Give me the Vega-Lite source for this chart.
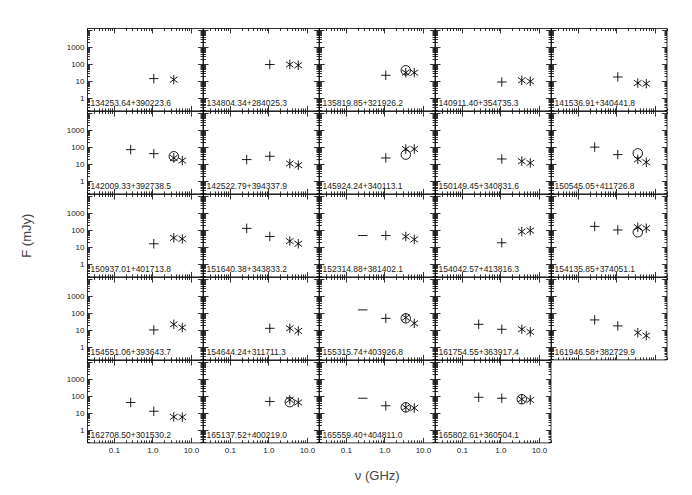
{
"$schema": "https://vega.github.io/schema/vega-lite/v6.json",
"background": "white",
"padding": {"left": 20, "top": 25, "right": 5, "bottom": 5},
"data": {"values": [
{"name":"134253.64+390223.6","f":1.086,"s":14.4,"sym":"plus"},
{"name":"134253.64+390223.6","f":3.59,"s":12.6,"sym":"asterisk"},
{"name":"134804.34+284025.3","f":1.086,"s":96,"sym":"plus"},
{"name":"134804.34+284025.3","f":3.59,"s":96,"sym":"asterisk"},
{"name":"134804.34+284025.3","f":5.97,"s":87,"sym":"asterisk"},
{"name":"135819.85+321926.2","f":1.086,"s":22.5,"sym":"plus"},
{"name":"135819.85+321926.2","f":3.59,"s":44,"sym":"circle"},
{"name":"135819.85+321926.2","f":3.59,"s":32,"sym":"asterisk"},
{"name":"135819.85+321926.2","f":5.97,"s":32,"sym":"asterisk"},
{"name":"140911.40+354735.3","f":1.086,"s":9.1,"sym":"plus"},
{"name":"140911.40+354735.3","f":3.59,"s":11.5,"sym":"asterisk"},
{"name":"140911.40+354735.3","f":5.97,"s":10,"sym":"asterisk"},
{"name":"141536.91+340441.8","f":1.086,"s":17.9,"sym":"plus"},
{"name":"141536.91+340441.8","f":3.59,"s":7.9,"sym":"asterisk"},
{"name":"141536.91+340441.8","f":5.97,"s":7.3,"sym":"asterisk"},
{"name":"142009.33+392738.5","f":0.273,"s":72,"sym":"plus"},
{"name":"142009.33+392738.5","f":1.086,"s":42,"sym":"plus"},
{"name":"142009.33+392738.5","f":3.59,"s":29.5,"sym":"circle"},
{"name":"142009.33+392738.5","f":3.59,"s":23.5,"sym":"asterisk"},
{"name":"142009.33+392738.5","f":5.97,"s":16.6,"sym":"asterisk"},
{"name":"142522.79+394337.9","f":0.273,"s":18.9,"sym":"plus"},
{"name":"142522.79+394337.9","f":1.086,"s":29.5,"sym":"plus"},
{"name":"142522.79+394337.9","f":3.59,"s":11.1,"sym":"asterisk"},
{"name":"142522.79+394337.9","f":5.97,"s":8.9,"sym":"asterisk"},
{"name":"145924.24+340113.1","f":1.086,"s":23.5,"sym":"plus"},
{"name":"145924.24+340113.1","f":3.59,"s":36.8,"sym":"circle"},
{"name":"145924.24+340113.1","f":3.59,"s":78,"sym":"asterisk"},
{"name":"145924.24+340113.1","f":5.97,"s":78,"sym":"asterisk"},
{"name":"150149.45+340831.6","f":1.086,"s":20.5,"sym":"plus"},
{"name":"150149.45+340831.6","f":3.59,"s":15.1,"sym":"asterisk"},
{"name":"150149.45+340831.6","f":5.97,"s":12,"sym":"asterisk"},
{"name":"150545.05+411726.8","f":0.273,"s":101,"sym":"plus"},
{"name":"150545.05+411726.8","f":1.086,"s":36.8,"sym":"plus"},
{"name":"150545.05+411726.8","f":3.59,"s":43.6,"sym":"circle"},
{"name":"150545.05+411726.8","f":3.59,"s":19.7,"sym":"asterisk"},
{"name":"150545.05+411726.8","f":5.97,"s":13.2,"sym":"asterisk"},
{"name":"150937.01+401713.8","f":1.086,"s":16.1,"sym":"plus"},
{"name":"150937.01+401713.8","f":3.59,"s":35.7,"sym":"asterisk"},
{"name":"150937.01+401713.8","f":5.97,"s":31.2,"sym":"asterisk"},
{"name":"151640.38+343833.2","f":0.273,"s":128,"sym":"plus"},
{"name":"151640.38+343833.2","f":1.086,"s":42.8,"sym":"plus"},
{"name":"151640.38+343833.2","f":3.59,"s":23,"sym":"asterisk"},
{"name":"151640.38+343833.2","f":5.97,"s":16.1,"sym":"asterisk"},
{"name":"152314.88+381402.1","f":0.273,"s":49,"sym":"dash"},
{"name":"152314.88+381402.1","f":1.086,"s":49,"sym":"plus"},
{"name":"152314.88+381402.1","f":3.59,"s":42.7,"sym":"asterisk"},
{"name":"152314.88+381402.1","f":5.97,"s":29,"sym":"asterisk"},
{"name":"154042.57+413816.3","f":1.086,"s":18.4,"sym":"plus"},
{"name":"154042.57+413816.3","f":3.59,"s":83,"sym":"asterisk"},
{"name":"154042.57+413816.3","f":5.97,"s":95,"sym":"asterisk"},
{"name":"154135.85+374051.1","f":0.273,"s":167,"sym":"plus"},
{"name":"154135.85+374051.1","f":1.086,"s":103,"sym":"plus"},
{"name":"154135.85+374051.1","f":3.59,"s":76,"sym":"circle"},
{"name":"154135.85+374051.1","f":3.59,"s":147,"sym":"asterisk"},
{"name":"154135.85+374051.1","f":5.97,"s":130,"sym":"asterisk"},
{"name":"154551.06+393643.7","f":1.086,"s":10.5,"sym":"plus"},
{"name":"154551.06+393643.7","f":3.59,"s":22.4,"sym":"asterisk"},
{"name":"154551.06+393643.7","f":5.97,"s":14.4,"sym":"asterisk"},
{"name":"154644.24+311711.3","f":1.086,"s":13.1,"sym":"plus"},
{"name":"154644.24+311711.3","f":3.59,"s":13.1,"sym":"asterisk"},
{"name":"154644.24+311711.3","f":5.97,"s":9.2,"sym":"asterisk"},
{"name":"155315.74+403926.8","f":0.273,"s":156,"sym":"dash"},
{"name":"155315.74+403926.8","f":1.086,"s":50,"sym":"plus"},
{"name":"155315.74+403926.8","f":3.59,"s":50,"sym":"circle"},
{"name":"155315.74+403926.8","f":3.59,"s":55,"sym":"asterisk"},
{"name":"155315.74+403926.8","f":5.97,"s":25.7,"sym":"asterisk"},
{"name":"161754.55+363917.4","f":0.273,"s":22.4,"sym":"plus"},
{"name":"161754.55+363917.4","f":1.086,"s":11.5,"sym":"plus"},
{"name":"161754.55+363917.4","f":3.59,"s":11.5,"sym":"asterisk"},
{"name":"161754.55+363917.4","f":5.97,"s":8.1,"sym":"asterisk"},
{"name":"161946.58+382729.9","f":0.273,"s":40.5,"sym":"plus"},
{"name":"161946.58+382729.9","f":1.086,"s":18.1,"sym":"plus"},
{"name":"161946.58+382729.9","f":3.59,"s":7.3,"sym":"asterisk"},
{"name":"161946.58+382729.9","f":5.97,"s":4.9,"sym":"asterisk"},
{"name":"162708.50+301530.2","f":0.273,"s":43,"sym":"plus"},
{"name":"162708.50+301530.2","f":1.086,"s":13.2,"sym":"plus"},
{"name":"162708.50+301530.2","f":3.59,"s":6.2,"sym":"asterisk"},
{"name":"162708.50+301530.2","f":5.97,"s":6.0,"sym":"asterisk"},
{"name":"165137.52+400219.0","f":1.086,"s":49,"sym":"plus"},
{"name":"165137.52+400219.0","f":3.59,"s":44.8,"sym":"circle"},
{"name":"165137.52+400219.0","f":3.59,"s":61,"sym":"asterisk"},
{"name":"165137.52+400219.0","f":5.97,"s":43,"sym":"asterisk"},
{"name":"165559.40+404811.0","f":0.273,"s":76,"sym":"dash"},
{"name":"165559.40+404811.0","f":1.086,"s":27.6,"sym":"plus"},
{"name":"165559.40+404811.0","f":3.59,"s":22.3,"sym":"circle"},
{"name":"165559.40+404811.0","f":3.59,"s":22,"sym":"asterisk"},
{"name":"165559.40+404811.0","f":5.97,"s":20.4,"sym":"asterisk"},
{"name":"165802.61+360504.1","f":0.273,"s":86.5,"sym":"plus"},
{"name":"165802.61+360504.1","f":1.086,"s":76,"sym":"plus"},
{"name":"165802.61+360504.1","f":3.59,"s":66.5,"sym":"circle"},
{"name":"165802.61+360504.1","f":3.59,"s":66.5,"sym":"asterisk"},
{"name":"165802.61+360504.1","f":5.97,"s":60.5,"sym":"asterisk"}
]},
"columns": 5,
"spacing": 0,
"bounds": "flush",
"concat": [
{"width":115.5,"height":82.4,"transform":[{"filter":{"field":"name","equal":"134253.64+390223.6"}}],"layer":[
{"mark":{"type":"point","filled":false,"stroke":"#000","strokeWidth":0.9,"size":90,"opacity":1},"encoding":{
"x":{"field":"f","type":"quantitative","scale":{"type":"log","domain":[0.02,20],"nice":false},"axis":{"orient":"bottom","tickCount":20,"labels":false,"tickSize":{"condition":{"test":"abs(log(datum.value)/LN10-round(log(datum.value)/LN10))<0.0001","value":-5},"value":-2.5},"title":null}},
"y":{"field":"s","type":"quantitative","scale":{"type":"log","domain":[0.2,13000],"nice":false},"axis":{"orient":"left","tickCount":20,"labelExpr":"abs(log(datum.value)/LN10-round(log(datum.value)/LN10))<0.0001 && datum.value<5000 ? format(datum.value,'d') : ''","labelPadding":8,"tickSize":{"condition":{"test":"abs(log(datum.value)/LN10-round(log(datum.value)/LN10))<0.0001","value":-5},"value":-2.5},"title":null}},
"shape":{"field":"sym","type":"nominal","scale":{"domain":["plus","asterisk","circle","dash"],"range":["M-1,0L1,0M0,-1L0,1","M0,-1L0,1M-0.8,-0.6L0.8,0.6M-0.8,0.6L0.8,-0.6","circle","M-1,0L1,0"]},"legend":null}}},
{"transform":[{"aggregate":[{"op":"count","as":"n"}],"groupby":["name"]}],"mark":{"type":"text","align":"left","baseline":"bottom","dx":3.5,"dy":-2,"font":"Liberation Sans","fontSize":8.5,"color":"#222"},"encoding":{
"x":{"datum":0.02,"type":"quantitative","scale":{"type":"log","domain":[0.02,20],"nice":false},"axis":{"orient":"top","tickCount":20,"labels":false,"tickSize":{"condition":{"test":"abs(log(datum.value)/LN10-round(log(datum.value)/LN10))<0.0001","value":-5},"value":-2.5},"title":null}},
"y":{"datum":0.2,"type":"quantitative","scale":{"type":"log","domain":[0.2,13000],"nice":false},"axis":{"orient":"right","tickCount":20,"labels":false,"tickSize":{"condition":{"test":"abs(log(datum.value)/LN10-round(log(datum.value)/LN10))<0.0001","value":-5},"value":-2.5},"title":null}},
"text":{"field":"name"}}}
],"resolve":{"axis":{"x":"independent","y":"independent"}}},
{"width":115.5,"height":82.4,"transform":[{"filter":{"field":"name","equal":"134804.34+284025.3"}}],"layer":[
{"mark":{"type":"point","filled":false,"stroke":"#000","strokeWidth":0.9,"size":90,"opacity":1},"encoding":{
"x":{"field":"f","type":"quantitative","scale":{"type":"log","domain":[0.02,20],"nice":false},"axis":{"orient":"bottom","tickCount":20,"labels":false,"tickSize":{"condition":{"test":"abs(log(datum.value)/LN10-round(log(datum.value)/LN10))<0.0001","value":-5},"value":-2.5},"title":null}},
"y":{"field":"s","type":"quantitative","scale":{"type":"log","domain":[0.2,13000],"nice":false},"axis":{"orient":"left","tickCount":20,"labels":false,"tickSize":{"condition":{"test":"abs(log(datum.value)/LN10-round(log(datum.value)/LN10))<0.0001","value":-5},"value":-2.5},"title":null}},
"shape":{"field":"sym","type":"nominal","scale":{"domain":["plus","asterisk","circle","dash"],"range":["M-1,0L1,0M0,-1L0,1","M0,-1L0,1M-0.8,-0.6L0.8,0.6M-0.8,0.6L0.8,-0.6","circle","M-1,0L1,0"]},"legend":null}}},
{"transform":[{"aggregate":[{"op":"count","as":"n"}],"groupby":["name"]}],"mark":{"type":"text","align":"left","baseline":"bottom","dx":3.5,"dy":-2,"font":"Liberation Sans","fontSize":8.5,"color":"#222"},"encoding":{
"x":{"datum":0.02,"type":"quantitative","scale":{"type":"log","domain":[0.02,20],"nice":false},"axis":{"orient":"top","tickCount":20,"labels":false,"tickSize":{"condition":{"test":"abs(log(datum.value)/LN10-round(log(datum.value)/LN10))<0.0001","value":-5},"value":-2.5},"title":null}},
"y":{"datum":0.2,"type":"quantitative","scale":{"type":"log","domain":[0.2,13000],"nice":false},"axis":{"orient":"right","tickCount":20,"labels":false,"tickSize":{"condition":{"test":"abs(log(datum.value)/LN10-round(log(datum.value)/LN10))<0.0001","value":-5},"value":-2.5},"title":null}},
"text":{"field":"name"}}}
],"resolve":{"axis":{"x":"independent","y":"independent"}}},
{"width":115.5,"height":82.4,"transform":[{"filter":{"field":"name","equal":"135819.85+321926.2"}}],"layer":[
{"mark":{"type":"point","filled":false,"stroke":"#000","strokeWidth":0.9,"size":90,"opacity":1},"encoding":{
"x":{"field":"f","type":"quantitative","scale":{"type":"log","domain":[0.02,20],"nice":false},"axis":{"orient":"bottom","tickCount":20,"labels":false,"tickSize":{"condition":{"test":"abs(log(datum.value)/LN10-round(log(datum.value)/LN10))<0.0001","value":-5},"value":-2.5},"title":null}},
"y":{"field":"s","type":"quantitative","scale":{"type":"log","domain":[0.2,13000],"nice":false},"axis":{"orient":"left","tickCount":20,"labels":false,"tickSize":{"condition":{"test":"abs(log(datum.value)/LN10-round(log(datum.value)/LN10))<0.0001","value":-5},"value":-2.5},"title":null}},
"shape":{"field":"sym","type":"nominal","scale":{"domain":["plus","asterisk","circle","dash"],"range":["M-1,0L1,0M0,-1L0,1","M0,-1L0,1M-0.8,-0.6L0.8,0.6M-0.8,0.6L0.8,-0.6","circle","M-1,0L1,0"]},"legend":null}}},
{"transform":[{"aggregate":[{"op":"count","as":"n"}],"groupby":["name"]}],"mark":{"type":"text","align":"left","baseline":"bottom","dx":3.5,"dy":-2,"font":"Liberation Sans","fontSize":8.5,"color":"#222"},"encoding":{
"x":{"datum":0.02,"type":"quantitative","scale":{"type":"log","domain":[0.02,20],"nice":false},"axis":{"orient":"top","tickCount":20,"labels":false,"tickSize":{"condition":{"test":"abs(log(datum.value)/LN10-round(log(datum.value)/LN10))<0.0001","value":-5},"value":-2.5},"title":null}},
"y":{"datum":0.2,"type":"quantitative","scale":{"type":"log","domain":[0.2,13000],"nice":false},"axis":{"orient":"right","tickCount":20,"labels":false,"tickSize":{"condition":{"test":"abs(log(datum.value)/LN10-round(log(datum.value)/LN10))<0.0001","value":-5},"value":-2.5},"title":null}},
"text":{"field":"name"}}}
],"resolve":{"axis":{"x":"independent","y":"independent"}}},
{"width":115.5,"height":82.4,"transform":[{"filter":{"field":"name","equal":"140911.40+354735.3"}}],"layer":[
{"mark":{"type":"point","filled":false,"stroke":"#000","strokeWidth":0.9,"size":90,"opacity":1},"encoding":{
"x":{"field":"f","type":"quantitative","scale":{"type":"log","domain":[0.02,20],"nice":false},"axis":{"orient":"bottom","tickCount":20,"labels":false,"tickSize":{"condition":{"test":"abs(log(datum.value)/LN10-round(log(datum.value)/LN10))<0.0001","value":-5},"value":-2.5},"title":null}},
"y":{"field":"s","type":"quantitative","scale":{"type":"log","domain":[0.2,13000],"nice":false},"axis":{"orient":"left","tickCount":20,"labels":false,"tickSize":{"condition":{"test":"abs(log(datum.value)/LN10-round(log(datum.value)/LN10))<0.0001","value":-5},"value":-2.5},"title":null}},
"shape":{"field":"sym","type":"nominal","scale":{"domain":["plus","asterisk","circle","dash"],"range":["M-1,0L1,0M0,-1L0,1","M0,-1L0,1M-0.8,-0.6L0.8,0.6M-0.8,0.6L0.8,-0.6","circle","M-1,0L1,0"]},"legend":null}}},
{"transform":[{"aggregate":[{"op":"count","as":"n"}],"groupby":["name"]}],"mark":{"type":"text","align":"left","baseline":"bottom","dx":3.5,"dy":-2,"font":"Liberation Sans","fontSize":8.5,"color":"#222"},"encoding":{
"x":{"datum":0.02,"type":"quantitative","scale":{"type":"log","domain":[0.02,20],"nice":false},"axis":{"orient":"top","tickCount":20,"labels":false,"tickSize":{"condition":{"test":"abs(log(datum.value)/LN10-round(log(datum.value)/LN10))<0.0001","value":-5},"value":-2.5},"title":null}},
"y":{"datum":0.2,"type":"quantitative","scale":{"type":"log","domain":[0.2,13000],"nice":false},"axis":{"orient":"right","tickCount":20,"labels":false,"tickSize":{"condition":{"test":"abs(log(datum.value)/LN10-round(log(datum.value)/LN10))<0.0001","value":-5},"value":-2.5},"title":null}},
"text":{"field":"name"}}}
],"resolve":{"axis":{"x":"independent","y":"independent"}}},
{"width":115.5,"height":82.4,"transform":[{"filter":{"field":"name","equal":"141536.91+340441.8"}}],"layer":[
{"mark":{"type":"point","filled":false,"stroke":"#000","strokeWidth":0.9,"size":90,"opacity":1},"encoding":{
"x":{"field":"f","type":"quantitative","scale":{"type":"log","domain":[0.02,20],"nice":false},"axis":{"orient":"bottom","tickCount":20,"labels":false,"tickSize":{"condition":{"test":"abs(log(datum.value)/LN10-round(log(datum.value)/LN10))<0.0001","value":-5},"value":-2.5},"title":null}},
"y":{"field":"s","type":"quantitative","scale":{"type":"log","domain":[0.2,13000],"nice":false},"axis":{"orient":"left","tickCount":20,"labels":false,"tickSize":{"condition":{"test":"abs(log(datum.value)/LN10-round(log(datum.value)/LN10))<0.0001","value":-5},"value":-2.5},"title":null}},
"shape":{"field":"sym","type":"nominal","scale":{"domain":["plus","asterisk","circle","dash"],"range":["M-1,0L1,0M0,-1L0,1","M0,-1L0,1M-0.8,-0.6L0.8,0.6M-0.8,0.6L0.8,-0.6","circle","M-1,0L1,0"]},"legend":null}}},
{"transform":[{"aggregate":[{"op":"count","as":"n"}],"groupby":["name"]}],"mark":{"type":"text","align":"left","baseline":"bottom","dx":3.5,"dy":-2,"font":"Liberation Sans","fontSize":8.5,"color":"#222"},"encoding":{
"x":{"datum":0.02,"type":"quantitative","scale":{"type":"log","domain":[0.02,20],"nice":false},"axis":{"orient":"top","tickCount":20,"labels":false,"tickSize":{"condition":{"test":"abs(log(datum.value)/LN10-round(log(datum.value)/LN10))<0.0001","value":-5},"value":-2.5},"title":null}},
"y":{"datum":0.2,"type":"quantitative","scale":{"type":"log","domain":[0.2,13000],"nice":false},"axis":{"orient":"right","tickCount":20,"labels":false,"tickSize":{"condition":{"test":"abs(log(datum.value)/LN10-round(log(datum.value)/LN10))<0.0001","value":-5},"value":-2.5},"title":null}},
"text":{"field":"name"}}}
],"resolve":{"axis":{"x":"independent","y":"independent"}}},
{"width":115.5,"height":82.4,"transform":[{"filter":{"field":"name","equal":"142009.33+392738.5"}}],"layer":[
{"mark":{"type":"point","filled":false,"stroke":"#000","strokeWidth":0.9,"size":90,"opacity":1},"encoding":{
"x":{"field":"f","type":"quantitative","scale":{"type":"log","domain":[0.02,20],"nice":false},"axis":{"orient":"bottom","tickCount":20,"labels":false,"tickSize":{"condition":{"test":"abs(log(datum.value)/LN10-round(log(datum.value)/LN10))<0.0001","value":-5},"value":-2.5},"title":null}},
"y":{"field":"s","type":"quantitative","scale":{"type":"log","domain":[0.2,13000],"nice":false},"axis":{"orient":"left","tickCount":20,"labelExpr":"abs(log(datum.value)/LN10-round(log(datum.value)/LN10))<0.0001 && datum.value<5000 ? format(datum.value,'d') : ''","labelPadding":8,"tickSize":{"condition":{"test":"abs(log(datum.value)/LN10-round(log(datum.value)/LN10))<0.0001","value":-5},"value":-2.5},"title":null}},
"shape":{"field":"sym","type":"nominal","scale":{"domain":["plus","asterisk","circle","dash"],"range":["M-1,0L1,0M0,-1L0,1","M0,-1L0,1M-0.8,-0.6L0.8,0.6M-0.8,0.6L0.8,-0.6","circle","M-1,0L1,0"]},"legend":null}}},
{"transform":[{"aggregate":[{"op":"count","as":"n"}],"groupby":["name"]}],"mark":{"type":"text","align":"left","baseline":"bottom","dx":3.5,"dy":-2,"font":"Liberation Sans","fontSize":8.5,"color":"#222"},"encoding":{
"x":{"datum":0.02,"type":"quantitative","scale":{"type":"log","domain":[0.02,20],"nice":false},"axis":{"orient":"top","tickCount":20,"labels":false,"tickSize":{"condition":{"test":"abs(log(datum.value)/LN10-round(log(datum.value)/LN10))<0.0001","value":-5},"value":-2.5},"title":null}},
"y":{"datum":0.2,"type":"quantitative","scale":{"type":"log","domain":[0.2,13000],"nice":false},"axis":{"orient":"right","tickCount":20,"labels":false,"tickSize":{"condition":{"test":"abs(log(datum.value)/LN10-round(log(datum.value)/LN10))<0.0001","value":-5},"value":-2.5},"title":null}},
"text":{"field":"name"}}}
],"resolve":{"axis":{"x":"independent","y":"independent"}}},
{"width":115.5,"height":82.4,"transform":[{"filter":{"field":"name","equal":"142522.79+394337.9"}}],"layer":[
{"mark":{"type":"point","filled":false,"stroke":"#000","strokeWidth":0.9,"size":90,"opacity":1},"encoding":{
"x":{"field":"f","type":"quantitative","scale":{"type":"log","domain":[0.02,20],"nice":false},"axis":{"orient":"bottom","tickCount":20,"labels":false,"tickSize":{"condition":{"test":"abs(log(datum.value)/LN10-round(log(datum.value)/LN10))<0.0001","value":-5},"value":-2.5},"title":null}},
"y":{"field":"s","type":"quantitative","scale":{"type":"log","domain":[0.2,13000],"nice":false},"axis":{"orient":"left","tickCount":20,"labels":false,"tickSize":{"condition":{"test":"abs(log(datum.value)/LN10-round(log(datum.value)/LN10))<0.0001","value":-5},"value":-2.5},"title":null}},
"shape":{"field":"sym","type":"nominal","scale":{"domain":["plus","asterisk","circle","dash"],"range":["M-1,0L1,0M0,-1L0,1","M0,-1L0,1M-0.8,-0.6L0.8,0.6M-0.8,0.6L0.8,-0.6","circle","M-1,0L1,0"]},"legend":null}}},
{"transform":[{"aggregate":[{"op":"count","as":"n"}],"groupby":["name"]}],"mark":{"type":"text","align":"left","baseline":"bottom","dx":3.5,"dy":-2,"font":"Liberation Sans","fontSize":8.5,"color":"#222"},"encoding":{
"x":{"datum":0.02,"type":"quantitative","scale":{"type":"log","domain":[0.02,20],"nice":false},"axis":{"orient":"top","tickCount":20,"labels":false,"tickSize":{"condition":{"test":"abs(log(datum.value)/LN10-round(log(datum.value)/LN10))<0.0001","value":-5},"value":-2.5},"title":null}},
"y":{"datum":0.2,"type":"quantitative","scale":{"type":"log","domain":[0.2,13000],"nice":false},"axis":{"orient":"right","tickCount":20,"labels":false,"tickSize":{"condition":{"test":"abs(log(datum.value)/LN10-round(log(datum.value)/LN10))<0.0001","value":-5},"value":-2.5},"title":null}},
"text":{"field":"name"}}}
],"resolve":{"axis":{"x":"independent","y":"independent"}}},
{"width":115.5,"height":82.4,"transform":[{"filter":{"field":"name","equal":"145924.24+340113.1"}}],"layer":[
{"mark":{"type":"point","filled":false,"stroke":"#000","strokeWidth":0.9,"size":90,"opacity":1},"encoding":{
"x":{"field":"f","type":"quantitative","scale":{"type":"log","domain":[0.02,20],"nice":false},"axis":{"orient":"bottom","tickCount":20,"labels":false,"tickSize":{"condition":{"test":"abs(log(datum.value)/LN10-round(log(datum.value)/LN10))<0.0001","value":-5},"value":-2.5},"title":null}},
"y":{"field":"s","type":"quantitative","scale":{"type":"log","domain":[0.2,13000],"nice":false},"axis":{"orient":"left","tickCount":20,"labels":false,"tickSize":{"condition":{"test":"abs(log(datum.value)/LN10-round(log(datum.value)/LN10))<0.0001","value":-5},"value":-2.5},"title":null}},
"shape":{"field":"sym","type":"nominal","scale":{"domain":["plus","asterisk","circle","dash"],"range":["M-1,0L1,0M0,-1L0,1","M0,-1L0,1M-0.8,-0.6L0.8,0.6M-0.8,0.6L0.8,-0.6","circle","M-1,0L1,0"]},"legend":null}}},
{"transform":[{"aggregate":[{"op":"count","as":"n"}],"groupby":["name"]}],"mark":{"type":"text","align":"left","baseline":"bottom","dx":3.5,"dy":-2,"font":"Liberation Sans","fontSize":8.5,"color":"#222"},"encoding":{
"x":{"datum":0.02,"type":"quantitative","scale":{"type":"log","domain":[0.02,20],"nice":false},"axis":{"orient":"top","tickCount":20,"labels":false,"tickSize":{"condition":{"test":"abs(log(datum.value)/LN10-round(log(datum.value)/LN10))<0.0001","value":-5},"value":-2.5},"title":null}},
"y":{"datum":0.2,"type":"quantitative","scale":{"type":"log","domain":[0.2,13000],"nice":false},"axis":{"orient":"right","tickCount":20,"labels":false,"tickSize":{"condition":{"test":"abs(log(datum.value)/LN10-round(log(datum.value)/LN10))<0.0001","value":-5},"value":-2.5},"title":null}},
"text":{"field":"name"}}}
],"resolve":{"axis":{"x":"independent","y":"independent"}}},
{"width":115.5,"height":82.4,"transform":[{"filter":{"field":"name","equal":"150149.45+340831.6"}}],"layer":[
{"mark":{"type":"point","filled":false,"stroke":"#000","strokeWidth":0.9,"size":90,"opacity":1},"encoding":{
"x":{"field":"f","type":"quantitative","scale":{"type":"log","domain":[0.02,20],"nice":false},"axis":{"orient":"bottom","tickCount":20,"labels":false,"tickSize":{"condition":{"test":"abs(log(datum.value)/LN10-round(log(datum.value)/LN10))<0.0001","value":-5},"value":-2.5},"title":null}},
"y":{"field":"s","type":"quantitative","scale":{"type":"log","domain":[0.2,13000],"nice":false},"axis":{"orient":"left","tickCount":20,"labels":false,"tickSize":{"condition":{"test":"abs(log(datum.value)/LN10-round(log(datum.value)/LN10))<0.0001","value":-5},"value":-2.5},"title":null}},
"shape":{"field":"sym","type":"nominal","scale":{"domain":["plus","asterisk","circle","dash"],"range":["M-1,0L1,0M0,-1L0,1","M0,-1L0,1M-0.8,-0.6L0.8,0.6M-0.8,0.6L0.8,-0.6","circle","M-1,0L1,0"]},"legend":null}}},
{"transform":[{"aggregate":[{"op":"count","as":"n"}],"groupby":["name"]}],"mark":{"type":"text","align":"left","baseline":"bottom","dx":3.5,"dy":-2,"font":"Liberation Sans","fontSize":8.5,"color":"#222"},"encoding":{
"x":{"datum":0.02,"type":"quantitative","scale":{"type":"log","domain":[0.02,20],"nice":false},"axis":{"orient":"top","tickCount":20,"labels":false,"tickSize":{"condition":{"test":"abs(log(datum.value)/LN10-round(log(datum.value)/LN10))<0.0001","value":-5},"value":-2.5},"title":null}},
"y":{"datum":0.2,"type":"quantitative","scale":{"type":"log","domain":[0.2,13000],"nice":false},"axis":{"orient":"right","tickCount":20,"labels":false,"tickSize":{"condition":{"test":"abs(log(datum.value)/LN10-round(log(datum.value)/LN10))<0.0001","value":-5},"value":-2.5},"title":null}},
"text":{"field":"name"}}}
],"resolve":{"axis":{"x":"independent","y":"independent"}}},
{"width":115.5,"height":82.4,"transform":[{"filter":{"field":"name","equal":"150545.05+411726.8"}}],"layer":[
{"mark":{"type":"point","filled":false,"stroke":"#000","strokeWidth":0.9,"size":90,"opacity":1},"encoding":{
"x":{"field":"f","type":"quantitative","scale":{"type":"log","domain":[0.02,20],"nice":false},"axis":{"orient":"bottom","tickCount":20,"labels":false,"tickSize":{"condition":{"test":"abs(log(datum.value)/LN10-round(log(datum.value)/LN10))<0.0001","value":-5},"value":-2.5},"title":null}},
"y":{"field":"s","type":"quantitative","scale":{"type":"log","domain":[0.2,13000],"nice":false},"axis":{"orient":"left","tickCount":20,"labels":false,"tickSize":{"condition":{"test":"abs(log(datum.value)/LN10-round(log(datum.value)/LN10))<0.0001","value":-5},"value":-2.5},"title":null}},
"shape":{"field":"sym","type":"nominal","scale":{"domain":["plus","asterisk","circle","dash"],"range":["M-1,0L1,0M0,-1L0,1","M0,-1L0,1M-0.8,-0.6L0.8,0.6M-0.8,0.6L0.8,-0.6","circle","M-1,0L1,0"]},"legend":null}}},
{"transform":[{"aggregate":[{"op":"count","as":"n"}],"groupby":["name"]}],"mark":{"type":"text","align":"left","baseline":"bottom","dx":3.5,"dy":-2,"font":"Liberation Sans","fontSize":8.5,"color":"#222"},"encoding":{
"x":{"datum":0.02,"type":"quantitative","scale":{"type":"log","domain":[0.02,20],"nice":false},"axis":{"orient":"top","tickCount":20,"labels":false,"tickSize":{"condition":{"test":"abs(log(datum.value)/LN10-round(log(datum.value)/LN10))<0.0001","value":-5},"value":-2.5},"title":null}},
"y":{"datum":0.2,"type":"quantitative","scale":{"type":"log","domain":[0.2,13000],"nice":false},"axis":{"orient":"right","tickCount":20,"labels":false,"tickSize":{"condition":{"test":"abs(log(datum.value)/LN10-round(log(datum.value)/LN10))<0.0001","value":-5},"value":-2.5},"title":null}},
"text":{"field":"name"}}}
],"resolve":{"axis":{"x":"independent","y":"independent"}}},
{"width":115.5,"height":82.4,"transform":[{"filter":{"field":"name","equal":"150937.01+401713.8"}}],"layer":[
{"mark":{"type":"point","filled":false,"stroke":"#000","strokeWidth":0.9,"size":90,"opacity":1},"encoding":{
"x":{"field":"f","type":"quantitative","scale":{"type":"log","domain":[0.02,20],"nice":false},"axis":{"orient":"bottom","tickCount":20,"labels":false,"tickSize":{"condition":{"test":"abs(log(datum.value)/LN10-round(log(datum.value)/LN10))<0.0001","value":-5},"value":-2.5},"title":null}},
"y":{"field":"s","type":"quantitative","scale":{"type":"log","domain":[0.2,13000],"nice":false},"axis":{"orient":"left","tickCount":20,"labelExpr":"abs(log(datum.value)/LN10-round(log(datum.value)/LN10))<0.0001 && datum.value<5000 ? format(datum.value,'d') : ''","labelPadding":8,"tickSize":{"condition":{"test":"abs(log(datum.value)/LN10-round(log(datum.value)/LN10))<0.0001","value":-5},"value":-2.5},"title":"F (mJy)","titlePadding":33}},
"shape":{"field":"sym","type":"nominal","scale":{"domain":["plus","asterisk","circle","dash"],"range":["M-1,0L1,0M0,-1L0,1","M0,-1L0,1M-0.8,-0.6L0.8,0.6M-0.8,0.6L0.8,-0.6","circle","M-1,0L1,0"]},"legend":null}}},
{"transform":[{"aggregate":[{"op":"count","as":"n"}],"groupby":["name"]}],"mark":{"type":"text","align":"left","baseline":"bottom","dx":3.5,"dy":-2,"font":"Liberation Sans","fontSize":8.5,"color":"#222"},"encoding":{
"x":{"datum":0.02,"type":"quantitative","scale":{"type":"log","domain":[0.02,20],"nice":false},"axis":{"orient":"top","tickCount":20,"labels":false,"tickSize":{"condition":{"test":"abs(log(datum.value)/LN10-round(log(datum.value)/LN10))<0.0001","value":-5},"value":-2.5},"title":null}},
"y":{"datum":0.2,"type":"quantitative","scale":{"type":"log","domain":[0.2,13000],"nice":false},"axis":{"orient":"right","tickCount":20,"labels":false,"tickSize":{"condition":{"test":"abs(log(datum.value)/LN10-round(log(datum.value)/LN10))<0.0001","value":-5},"value":-2.5},"title":null}},
"text":{"field":"name"}}}
],"resolve":{"axis":{"x":"independent","y":"independent"}}},
{"width":115.5,"height":82.4,"transform":[{"filter":{"field":"name","equal":"151640.38+343833.2"}}],"layer":[
{"mark":{"type":"point","filled":false,"stroke":"#000","strokeWidth":0.9,"size":90,"opacity":1},"encoding":{
"x":{"field":"f","type":"quantitative","scale":{"type":"log","domain":[0.02,20],"nice":false},"axis":{"orient":"bottom","tickCount":20,"labels":false,"tickSize":{"condition":{"test":"abs(log(datum.value)/LN10-round(log(datum.value)/LN10))<0.0001","value":-5},"value":-2.5},"title":null}},
"y":{"field":"s","type":"quantitative","scale":{"type":"log","domain":[0.2,13000],"nice":false},"axis":{"orient":"left","tickCount":20,"labels":false,"tickSize":{"condition":{"test":"abs(log(datum.value)/LN10-round(log(datum.value)/LN10))<0.0001","value":-5},"value":-2.5},"title":null}},
"shape":{"field":"sym","type":"nominal","scale":{"domain":["plus","asterisk","circle","dash"],"range":["M-1,0L1,0M0,-1L0,1","M0,-1L0,1M-0.8,-0.6L0.8,0.6M-0.8,0.6L0.8,-0.6","circle","M-1,0L1,0"]},"legend":null}}},
{"transform":[{"aggregate":[{"op":"count","as":"n"}],"groupby":["name"]}],"mark":{"type":"text","align":"left","baseline":"bottom","dx":3.5,"dy":-2,"font":"Liberation Sans","fontSize":8.5,"color":"#222"},"encoding":{
"x":{"datum":0.02,"type":"quantitative","scale":{"type":"log","domain":[0.02,20],"nice":false},"axis":{"orient":"top","tickCount":20,"labels":false,"tickSize":{"condition":{"test":"abs(log(datum.value)/LN10-round(log(datum.value)/LN10))<0.0001","value":-5},"value":-2.5},"title":null}},
"y":{"datum":0.2,"type":"quantitative","scale":{"type":"log","domain":[0.2,13000],"nice":false},"axis":{"orient":"right","tickCount":20,"labels":false,"tickSize":{"condition":{"test":"abs(log(datum.value)/LN10-round(log(datum.value)/LN10))<0.0001","value":-5},"value":-2.5},"title":null}},
"text":{"field":"name"}}}
],"resolve":{"axis":{"x":"independent","y":"independent"}}},
{"width":115.5,"height":82.4,"transform":[{"filter":{"field":"name","equal":"152314.88+381402.1"}}],"layer":[
{"mark":{"type":"point","filled":false,"stroke":"#000","strokeWidth":0.9,"size":90,"opacity":1},"encoding":{
"x":{"field":"f","type":"quantitative","scale":{"type":"log","domain":[0.02,20],"nice":false},"axis":{"orient":"bottom","tickCount":20,"labels":false,"tickSize":{"condition":{"test":"abs(log(datum.value)/LN10-round(log(datum.value)/LN10))<0.0001","value":-5},"value":-2.5},"title":null}},
"y":{"field":"s","type":"quantitative","scale":{"type":"log","domain":[0.2,13000],"nice":false},"axis":{"orient":"left","tickCount":20,"labels":false,"tickSize":{"condition":{"test":"abs(log(datum.value)/LN10-round(log(datum.value)/LN10))<0.0001","value":-5},"value":-2.5},"title":null}},
"shape":{"field":"sym","type":"nominal","scale":{"domain":["plus","asterisk","circle","dash"],"range":["M-1,0L1,0M0,-1L0,1","M0,-1L0,1M-0.8,-0.6L0.8,0.6M-0.8,0.6L0.8,-0.6","circle","M-1,0L1,0"]},"legend":null}}},
{"transform":[{"aggregate":[{"op":"count","as":"n"}],"groupby":["name"]}],"mark":{"type":"text","align":"left","baseline":"bottom","dx":3.5,"dy":-2,"font":"Liberation Sans","fontSize":8.5,"color":"#222"},"encoding":{
"x":{"datum":0.02,"type":"quantitative","scale":{"type":"log","domain":[0.02,20],"nice":false},"axis":{"orient":"top","tickCount":20,"labels":false,"tickSize":{"condition":{"test":"abs(log(datum.value)/LN10-round(log(datum.value)/LN10))<0.0001","value":-5},"value":-2.5},"title":null}},
"y":{"datum":0.2,"type":"quantitative","scale":{"type":"log","domain":[0.2,13000],"nice":false},"axis":{"orient":"right","tickCount":20,"labels":false,"tickSize":{"condition":{"test":"abs(log(datum.value)/LN10-round(log(datum.value)/LN10))<0.0001","value":-5},"value":-2.5},"title":null}},
"text":{"field":"name"}}}
],"resolve":{"axis":{"x":"independent","y":"independent"}}},
{"width":115.5,"height":82.4,"transform":[{"filter":{"field":"name","equal":"154042.57+413816.3"}}],"layer":[
{"mark":{"type":"point","filled":false,"stroke":"#000","strokeWidth":0.9,"size":90,"opacity":1},"encoding":{
"x":{"field":"f","type":"quantitative","scale":{"type":"log","domain":[0.02,20],"nice":false},"axis":{"orient":"bottom","tickCount":20,"labels":false,"tickSize":{"condition":{"test":"abs(log(datum.value)/LN10-round(log(datum.value)/LN10))<0.0001","value":-5},"value":-2.5},"title":null}},
"y":{"field":"s","type":"quantitative","scale":{"type":"log","domain":[0.2,13000],"nice":false},"axis":{"orient":"left","tickCount":20,"labels":false,"tickSize":{"condition":{"test":"abs(log(datum.value)/LN10-round(log(datum.value)/LN10))<0.0001","value":-5},"value":-2.5},"title":null}},
"shape":{"field":"sym","type":"nominal","scale":{"domain":["plus","asterisk","circle","dash"],"range":["M-1,0L1,0M0,-1L0,1","M0,-1L0,1M-0.8,-0.6L0.8,0.6M-0.8,0.6L0.8,-0.6","circle","M-1,0L1,0"]},"legend":null}}},
{"transform":[{"aggregate":[{"op":"count","as":"n"}],"groupby":["name"]}],"mark":{"type":"text","align":"left","baseline":"bottom","dx":3.5,"dy":-2,"font":"Liberation Sans","fontSize":8.5,"color":"#222"},"encoding":{
"x":{"datum":0.02,"type":"quantitative","scale":{"type":"log","domain":[0.02,20],"nice":false},"axis":{"orient":"top","tickCount":20,"labels":false,"tickSize":{"condition":{"test":"abs(log(datum.value)/LN10-round(log(datum.value)/LN10))<0.0001","value":-5},"value":-2.5},"title":null}},
"y":{"datum":0.2,"type":"quantitative","scale":{"type":"log","domain":[0.2,13000],"nice":false},"axis":{"orient":"right","tickCount":20,"labels":false,"tickSize":{"condition":{"test":"abs(log(datum.value)/LN10-round(log(datum.value)/LN10))<0.0001","value":-5},"value":-2.5},"title":null}},
"text":{"field":"name"}}}
],"resolve":{"axis":{"x":"independent","y":"independent"}}},
{"width":115.5,"height":82.4,"transform":[{"filter":{"field":"name","equal":"154135.85+374051.1"}}],"layer":[
{"mark":{"type":"point","filled":false,"stroke":"#000","strokeWidth":0.9,"size":90,"opacity":1},"encoding":{
"x":{"field":"f","type":"quantitative","scale":{"type":"log","domain":[0.02,20],"nice":false},"axis":{"orient":"bottom","tickCount":20,"labels":false,"tickSize":{"condition":{"test":"abs(log(datum.value)/LN10-round(log(datum.value)/LN10))<0.0001","value":-5},"value":-2.5},"title":null}},
"y":{"field":"s","type":"quantitative","scale":{"type":"log","domain":[0.2,13000],"nice":false},"axis":{"orient":"left","tickCount":20,"labels":false,"tickSize":{"condition":{"test":"abs(log(datum.value)/LN10-round(log(datum.value)/LN10))<0.0001","value":-5},"value":-2.5},"title":null}},
"shape":{"field":"sym","type":"nominal","scale":{"domain":["plus","asterisk","circle","dash"],"range":["M-1,0L1,0M0,-1L0,1","M0,-1L0,1M-0.8,-0.6L0.8,0.6M-0.8,0.6L0.8,-0.6","circle","M-1,0L1,0"]},"legend":null}}},
{"transform":[{"aggregate":[{"op":"count","as":"n"}],"groupby":["name"]}],"mark":{"type":"text","align":"left","baseline":"bottom","dx":3.5,"dy":-2,"font":"Liberation Sans","fontSize":8.5,"color":"#222"},"encoding":{
"x":{"datum":0.02,"type":"quantitative","scale":{"type":"log","domain":[0.02,20],"nice":false},"axis":{"orient":"top","tickCount":20,"labels":false,"tickSize":{"condition":{"test":"abs(log(datum.value)/LN10-round(log(datum.value)/LN10))<0.0001","value":-5},"value":-2.5},"title":null}},
"y":{"datum":0.2,"type":"quantitative","scale":{"type":"log","domain":[0.2,13000],"nice":false},"axis":{"orient":"right","tickCount":20,"labels":false,"tickSize":{"condition":{"test":"abs(log(datum.value)/LN10-round(log(datum.value)/LN10))<0.0001","value":-5},"value":-2.5},"title":null}},
"text":{"field":"name"}}}
],"resolve":{"axis":{"x":"independent","y":"independent"}}},
{"width":115.5,"height":82.4,"transform":[{"filter":{"field":"name","equal":"154551.06+393643.7"}}],"layer":[
{"mark":{"type":"point","filled":false,"stroke":"#000","strokeWidth":0.9,"size":90,"opacity":1},"encoding":{
"x":{"field":"f","type":"quantitative","scale":{"type":"log","domain":[0.02,20],"nice":false},"axis":{"orient":"bottom","tickCount":20,"labels":false,"tickSize":{"condition":{"test":"abs(log(datum.value)/LN10-round(log(datum.value)/LN10))<0.0001","value":-5},"value":-2.5},"title":null}},
"y":{"field":"s","type":"quantitative","scale":{"type":"log","domain":[0.2,13000],"nice":false},"axis":{"orient":"left","tickCount":20,"labelExpr":"abs(log(datum.value)/LN10-round(log(datum.value)/LN10))<0.0001 && datum.value<5000 ? format(datum.value,'d') : ''","labelPadding":8,"tickSize":{"condition":{"test":"abs(log(datum.value)/LN10-round(log(datum.value)/LN10))<0.0001","value":-5},"value":-2.5},"title":null}},
"shape":{"field":"sym","type":"nominal","scale":{"domain":["plus","asterisk","circle","dash"],"range":["M-1,0L1,0M0,-1L0,1","M0,-1L0,1M-0.8,-0.6L0.8,0.6M-0.8,0.6L0.8,-0.6","circle","M-1,0L1,0"]},"legend":null}}},
{"transform":[{"aggregate":[{"op":"count","as":"n"}],"groupby":["name"]}],"mark":{"type":"text","align":"left","baseline":"bottom","dx":3.5,"dy":-2,"font":"Liberation Sans","fontSize":8.5,"color":"#222"},"encoding":{
"x":{"datum":0.02,"type":"quantitative","scale":{"type":"log","domain":[0.02,20],"nice":false},"axis":{"orient":"top","tickCount":20,"labels":false,"tickSize":{"condition":{"test":"abs(log(datum.value)/LN10-round(log(datum.value)/LN10))<0.0001","value":-5},"value":-2.5},"title":null}},
"y":{"datum":0.2,"type":"quantitative","scale":{"type":"log","domain":[0.2,13000],"nice":false},"axis":{"orient":"right","tickCount":20,"labels":false,"tickSize":{"condition":{"test":"abs(log(datum.value)/LN10-round(log(datum.value)/LN10))<0.0001","value":-5},"value":-2.5},"title":null}},
"text":{"field":"name"}}}
],"resolve":{"axis":{"x":"independent","y":"independent"}}},
{"width":115.5,"height":82.4,"transform":[{"filter":{"field":"name","equal":"154644.24+311711.3"}}],"layer":[
{"mark":{"type":"point","filled":false,"stroke":"#000","strokeWidth":0.9,"size":90,"opacity":1},"encoding":{
"x":{"field":"f","type":"quantitative","scale":{"type":"log","domain":[0.02,20],"nice":false},"axis":{"orient":"bottom","tickCount":20,"labels":false,"tickSize":{"condition":{"test":"abs(log(datum.value)/LN10-round(log(datum.value)/LN10))<0.0001","value":-5},"value":-2.5},"title":null}},
"y":{"field":"s","type":"quantitative","scale":{"type":"log","domain":[0.2,13000],"nice":false},"axis":{"orient":"left","tickCount":20,"labels":false,"tickSize":{"condition":{"test":"abs(log(datum.value)/LN10-round(log(datum.value)/LN10))<0.0001","value":-5},"value":-2.5},"title":null}},
"shape":{"field":"sym","type":"nominal","scale":{"domain":["plus","asterisk","circle","dash"],"range":["M-1,0L1,0M0,-1L0,1","M0,-1L0,1M-0.8,-0.6L0.8,0.6M-0.8,0.6L0.8,-0.6","circle","M-1,0L1,0"]},"legend":null}}},
{"transform":[{"aggregate":[{"op":"count","as":"n"}],"groupby":["name"]}],"mark":{"type":"text","align":"left","baseline":"bottom","dx":3.5,"dy":-2,"font":"Liberation Sans","fontSize":8.5,"color":"#222"},"encoding":{
"x":{"datum":0.02,"type":"quantitative","scale":{"type":"log","domain":[0.02,20],"nice":false},"axis":{"orient":"top","tickCount":20,"labels":false,"tickSize":{"condition":{"test":"abs(log(datum.value)/LN10-round(log(datum.value)/LN10))<0.0001","value":-5},"value":-2.5},"title":null}},
"y":{"datum":0.2,"type":"quantitative","scale":{"type":"log","domain":[0.2,13000],"nice":false},"axis":{"orient":"right","tickCount":20,"labels":false,"tickSize":{"condition":{"test":"abs(log(datum.value)/LN10-round(log(datum.value)/LN10))<0.0001","value":-5},"value":-2.5},"title":null}},
"text":{"field":"name"}}}
],"resolve":{"axis":{"x":"independent","y":"independent"}}},
{"width":115.5,"height":82.4,"transform":[{"filter":{"field":"name","equal":"155315.74+403926.8"}}],"layer":[
{"mark":{"type":"point","filled":false,"stroke":"#000","strokeWidth":0.9,"size":90,"opacity":1},"encoding":{
"x":{"field":"f","type":"quantitative","scale":{"type":"log","domain":[0.02,20],"nice":false},"axis":{"orient":"bottom","tickCount":20,"labels":false,"tickSize":{"condition":{"test":"abs(log(datum.value)/LN10-round(log(datum.value)/LN10))<0.0001","value":-5},"value":-2.5},"title":null}},
"y":{"field":"s","type":"quantitative","scale":{"type":"log","domain":[0.2,13000],"nice":false},"axis":{"orient":"left","tickCount":20,"labels":false,"tickSize":{"condition":{"test":"abs(log(datum.value)/LN10-round(log(datum.value)/LN10))<0.0001","value":-5},"value":-2.5},"title":null}},
"shape":{"field":"sym","type":"nominal","scale":{"domain":["plus","asterisk","circle","dash"],"range":["M-1,0L1,0M0,-1L0,1","M0,-1L0,1M-0.8,-0.6L0.8,0.6M-0.8,0.6L0.8,-0.6","circle","M-1,0L1,0"]},"legend":null}}},
{"transform":[{"aggregate":[{"op":"count","as":"n"}],"groupby":["name"]}],"mark":{"type":"text","align":"left","baseline":"bottom","dx":3.5,"dy":-2,"font":"Liberation Sans","fontSize":8.5,"color":"#222"},"encoding":{
"x":{"datum":0.02,"type":"quantitative","scale":{"type":"log","domain":[0.02,20],"nice":false},"axis":{"orient":"top","tickCount":20,"labels":false,"tickSize":{"condition":{"test":"abs(log(datum.value)/LN10-round(log(datum.value)/LN10))<0.0001","value":-5},"value":-2.5},"title":null}},
"y":{"datum":0.2,"type":"quantitative","scale":{"type":"log","domain":[0.2,13000],"nice":false},"axis":{"orient":"right","tickCount":20,"labels":false,"tickSize":{"condition":{"test":"abs(log(datum.value)/LN10-round(log(datum.value)/LN10))<0.0001","value":-5},"value":-2.5},"title":null}},
"text":{"field":"name"}}}
],"resolve":{"axis":{"x":"independent","y":"independent"}}},
{"width":115.5,"height":82.4,"transform":[{"filter":{"field":"name","equal":"161754.55+363917.4"}}],"layer":[
{"mark":{"type":"point","filled":false,"stroke":"#000","strokeWidth":0.9,"size":90,"opacity":1},"encoding":{
"x":{"field":"f","type":"quantitative","scale":{"type":"log","domain":[0.02,20],"nice":false},"axis":{"orient":"bottom","tickCount":20,"labels":false,"tickSize":{"condition":{"test":"abs(log(datum.value)/LN10-round(log(datum.value)/LN10))<0.0001","value":-5},"value":-2.5},"title":null}},
"y":{"field":"s","type":"quantitative","scale":{"type":"log","domain":[0.2,13000],"nice":false},"axis":{"orient":"left","tickCount":20,"labels":false,"tickSize":{"condition":{"test":"abs(log(datum.value)/LN10-round(log(datum.value)/LN10))<0.0001","value":-5},"value":-2.5},"title":null}},
"shape":{"field":"sym","type":"nominal","scale":{"domain":["plus","asterisk","circle","dash"],"range":["M-1,0L1,0M0,-1L0,1","M0,-1L0,1M-0.8,-0.6L0.8,0.6M-0.8,0.6L0.8,-0.6","circle","M-1,0L1,0"]},"legend":null}}},
{"transform":[{"aggregate":[{"op":"count","as":"n"}],"groupby":["name"]}],"mark":{"type":"text","align":"left","baseline":"bottom","dx":3.5,"dy":-2,"font":"Liberation Sans","fontSize":8.5,"color":"#222"},"encoding":{
"x":{"datum":0.02,"type":"quantitative","scale":{"type":"log","domain":[0.02,20],"nice":false},"axis":{"orient":"top","tickCount":20,"labels":false,"tickSize":{"condition":{"test":"abs(log(datum.value)/LN10-round(log(datum.value)/LN10))<0.0001","value":-5},"value":-2.5},"title":null}},
"y":{"datum":0.2,"type":"quantitative","scale":{"type":"log","domain":[0.2,13000],"nice":false},"axis":{"orient":"right","tickCount":20,"labels":false,"tickSize":{"condition":{"test":"abs(log(datum.value)/LN10-round(log(datum.value)/LN10))<0.0001","value":-5},"value":-2.5},"title":null}},
"text":{"field":"name"}}}
],"resolve":{"axis":{"x":"independent","y":"independent"}}},
{"width":115.5,"height":82.4,"transform":[{"filter":{"field":"name","equal":"161946.58+382729.9"}}],"layer":[
{"mark":{"type":"point","filled":false,"stroke":"#000","strokeWidth":0.9,"size":90,"opacity":1},"encoding":{
"x":{"field":"f","type":"quantitative","scale":{"type":"log","domain":[0.02,20],"nice":false},"axis":{"orient":"bottom","tickCount":20,"labels":false,"tickSize":{"condition":{"test":"abs(log(datum.value)/LN10-round(log(datum.value)/LN10))<0.0001","value":-5},"value":-2.5},"title":null}},
"y":{"field":"s","type":"quantitative","scale":{"type":"log","domain":[0.2,13000],"nice":false},"axis":{"orient":"left","tickCount":20,"labels":false,"tickSize":{"condition":{"test":"abs(log(datum.value)/LN10-round(log(datum.value)/LN10))<0.0001","value":-5},"value":-2.5},"title":null}},
"shape":{"field":"sym","type":"nominal","scale":{"domain":["plus","asterisk","circle","dash"],"range":["M-1,0L1,0M0,-1L0,1","M0,-1L0,1M-0.8,-0.6L0.8,0.6M-0.8,0.6L0.8,-0.6","circle","M-1,0L1,0"]},"legend":null}}},
{"transform":[{"aggregate":[{"op":"count","as":"n"}],"groupby":["name"]}],"mark":{"type":"text","align":"left","baseline":"bottom","dx":3.5,"dy":-2,"font":"Liberation Sans","fontSize":8.5,"color":"#222"},"encoding":{
"x":{"datum":0.02,"type":"quantitative","scale":{"type":"log","domain":[0.02,20],"nice":false},"axis":{"orient":"top","tickCount":20,"labels":false,"tickSize":{"condition":{"test":"abs(log(datum.value)/LN10-round(log(datum.value)/LN10))<0.0001","value":-5},"value":-2.5},"title":null}},
"y":{"datum":0.2,"type":"quantitative","scale":{"type":"log","domain":[0.2,13000],"nice":false},"axis":{"orient":"right","tickCount":20,"labels":false,"tickSize":{"condition":{"test":"abs(log(datum.value)/LN10-round(log(datum.value)/LN10))<0.0001","value":-5},"value":-2.5},"title":null}},
"text":{"field":"name"}}}
],"resolve":{"axis":{"x":"independent","y":"independent"}}},
{"width":115.5,"height":82.4,"transform":[{"filter":{"field":"name","equal":"162708.50+301530.2"}}],"layer":[
{"mark":{"type":"point","filled":false,"stroke":"#000","strokeWidth":0.9,"size":90,"opacity":1},"encoding":{
"x":{"field":"f","type":"quantitative","scale":{"type":"log","domain":[0.02,20],"nice":false},"axis":{"orient":"bottom","tickCount":20,"labelExpr":"abs(log(datum.value)/LN10-round(log(datum.value)/LN10))<0.0001 ? format(datum.value,'.1f') : ''","labelPadding":9,"tickSize":{"condition":{"test":"abs(log(datum.value)/LN10-round(log(datum.value)/LN10))<0.0001","value":-5},"value":-2.5},"title":null}},
"y":{"field":"s","type":"quantitative","scale":{"type":"log","domain":[0.2,13000],"nice":false},"axis":{"orient":"left","tickCount":20,"labelExpr":"abs(log(datum.value)/LN10-round(log(datum.value)/LN10))<0.0001 && datum.value<5000 ? format(datum.value,'d') : ''","labelPadding":8,"tickSize":{"condition":{"test":"abs(log(datum.value)/LN10-round(log(datum.value)/LN10))<0.0001","value":-5},"value":-2.5},"title":null}},
"shape":{"field":"sym","type":"nominal","scale":{"domain":["plus","asterisk","circle","dash"],"range":["M-1,0L1,0M0,-1L0,1","M0,-1L0,1M-0.8,-0.6L0.8,0.6M-0.8,0.6L0.8,-0.6","circle","M-1,0L1,0"]},"legend":null}}},
{"transform":[{"aggregate":[{"op":"count","as":"n"}],"groupby":["name"]}],"mark":{"type":"text","align":"left","baseline":"bottom","dx":3.5,"dy":-2,"font":"Liberation Sans","fontSize":8.5,"color":"#222"},"encoding":{
"x":{"datum":0.02,"type":"quantitative","scale":{"type":"log","domain":[0.02,20],"nice":false},"axis":{"orient":"top","tickCount":20,"labels":false,"tickSize":{"condition":{"test":"abs(log(datum.value)/LN10-round(log(datum.value)/LN10))<0.0001","value":-5},"value":-2.5},"title":null}},
"y":{"datum":0.2,"type":"quantitative","scale":{"type":"log","domain":[0.2,13000],"nice":false},"axis":{"orient":"right","tickCount":20,"labels":false,"tickSize":{"condition":{"test":"abs(log(datum.value)/LN10-round(log(datum.value)/LN10))<0.0001","value":-5},"value":-2.5},"title":null}},
"text":{"field":"name"}}}
],"resolve":{"axis":{"x":"independent","y":"independent"}}},
{"width":115.5,"height":82.4,"transform":[{"filter":{"field":"name","equal":"165137.52+400219.0"}}],"layer":[
{"mark":{"type":"point","filled":false,"stroke":"#000","strokeWidth":0.9,"size":90,"opacity":1},"encoding":{
"x":{"field":"f","type":"quantitative","scale":{"type":"log","domain":[0.02,20],"nice":false},"axis":{"orient":"bottom","tickCount":20,"labelExpr":"abs(log(datum.value)/LN10-round(log(datum.value)/LN10))<0.0001 ? format(datum.value,'.1f') : ''","labelPadding":9,"tickSize":{"condition":{"test":"abs(log(datum.value)/LN10-round(log(datum.value)/LN10))<0.0001","value":-5},"value":-2.5},"title":null}},
"y":{"field":"s","type":"quantitative","scale":{"type":"log","domain":[0.2,13000],"nice":false},"axis":{"orient":"left","tickCount":20,"labels":false,"tickSize":{"condition":{"test":"abs(log(datum.value)/LN10-round(log(datum.value)/LN10))<0.0001","value":-5},"value":-2.5},"title":null}},
"shape":{"field":"sym","type":"nominal","scale":{"domain":["plus","asterisk","circle","dash"],"range":["M-1,0L1,0M0,-1L0,1","M0,-1L0,1M-0.8,-0.6L0.8,0.6M-0.8,0.6L0.8,-0.6","circle","M-1,0L1,0"]},"legend":null}}},
{"transform":[{"aggregate":[{"op":"count","as":"n"}],"groupby":["name"]}],"mark":{"type":"text","align":"left","baseline":"bottom","dx":3.5,"dy":-2,"font":"Liberation Sans","fontSize":8.5,"color":"#222"},"encoding":{
"x":{"datum":0.02,"type":"quantitative","scale":{"type":"log","domain":[0.02,20],"nice":false},"axis":{"orient":"top","tickCount":20,"labels":false,"tickSize":{"condition":{"test":"abs(log(datum.value)/LN10-round(log(datum.value)/LN10))<0.0001","value":-5},"value":-2.5},"title":null}},
"y":{"datum":0.2,"type":"quantitative","scale":{"type":"log","domain":[0.2,13000],"nice":false},"axis":{"orient":"right","tickCount":20,"labels":false,"tickSize":{"condition":{"test":"abs(log(datum.value)/LN10-round(log(datum.value)/LN10))<0.0001","value":-5},"value":-2.5},"title":null}},
"text":{"field":"name"}}}
],"resolve":{"axis":{"x":"independent","y":"independent"}}},
{"width":115.5,"height":82.4,"transform":[{"filter":{"field":"name","equal":"165559.40+404811.0"}}],"layer":[
{"mark":{"type":"point","filled":false,"stroke":"#000","strokeWidth":0.9,"size":90,"opacity":1},"encoding":{
"x":{"field":"f","type":"quantitative","scale":{"type":"log","domain":[0.02,20],"nice":false},"axis":{"orient":"bottom","tickCount":20,"labelExpr":"abs(log(datum.value)/LN10-round(log(datum.value)/LN10))<0.0001 ? format(datum.value,'.1f') : ''","labelPadding":9,"tickSize":{"condition":{"test":"abs(log(datum.value)/LN10-round(log(datum.value)/LN10))<0.0001","value":-5},"value":-2.5},"title":"ν (GHz)","titlePadding":13}},
"y":{"field":"s","type":"quantitative","scale":{"type":"log","domain":[0.2,13000],"nice":false},"axis":{"orient":"left","tickCount":20,"labels":false,"tickSize":{"condition":{"test":"abs(log(datum.value)/LN10-round(log(datum.value)/LN10))<0.0001","value":-5},"value":-2.5},"title":null}},
"shape":{"field":"sym","type":"nominal","scale":{"domain":["plus","asterisk","circle","dash"],"range":["M-1,0L1,0M0,-1L0,1","M0,-1L0,1M-0.8,-0.6L0.8,0.6M-0.8,0.6L0.8,-0.6","circle","M-1,0L1,0"]},"legend":null}}},
{"transform":[{"aggregate":[{"op":"count","as":"n"}],"groupby":["name"]}],"mark":{"type":"text","align":"left","baseline":"bottom","dx":3.5,"dy":-2,"font":"Liberation Sans","fontSize":8.5,"color":"#222"},"encoding":{
"x":{"datum":0.02,"type":"quantitative","scale":{"type":"log","domain":[0.02,20],"nice":false},"axis":{"orient":"top","tickCount":20,"labels":false,"tickSize":{"condition":{"test":"abs(log(datum.value)/LN10-round(log(datum.value)/LN10))<0.0001","value":-5},"value":-2.5},"title":null}},
"y":{"datum":0.2,"type":"quantitative","scale":{"type":"log","domain":[0.2,13000],"nice":false},"axis":{"orient":"right","tickCount":20,"labels":false,"tickSize":{"condition":{"test":"abs(log(datum.value)/LN10-round(log(datum.value)/LN10))<0.0001","value":-5},"value":-2.5},"title":null}},
"text":{"field":"name"}}}
],"resolve":{"axis":{"x":"independent","y":"independent"}}},
{"width":115.5,"height":82.4,"transform":[{"filter":{"field":"name","equal":"165802.61+360504.1"}}],"layer":[
{"mark":{"type":"point","filled":false,"stroke":"#000","strokeWidth":0.9,"size":90,"opacity":1},"encoding":{
"x":{"field":"f","type":"quantitative","scale":{"type":"log","domain":[0.02,20],"nice":false},"axis":{"orient":"bottom","tickCount":20,"labelExpr":"abs(log(datum.value)/LN10-round(log(datum.value)/LN10))<0.0001 ? format(datum.value,'.1f') : ''","labelPadding":9,"tickSize":{"condition":{"test":"abs(log(datum.value)/LN10-round(log(datum.value)/LN10))<0.0001","value":-5},"value":-2.5},"title":null}},
"y":{"field":"s","type":"quantitative","scale":{"type":"log","domain":[0.2,13000],"nice":false},"axis":{"orient":"left","tickCount":20,"labels":false,"tickSize":{"condition":{"test":"abs(log(datum.value)/LN10-round(log(datum.value)/LN10))<0.0001","value":-5},"value":-2.5},"title":null}},
"shape":{"field":"sym","type":"nominal","scale":{"domain":["plus","asterisk","circle","dash"],"range":["M-1,0L1,0M0,-1L0,1","M0,-1L0,1M-0.8,-0.6L0.8,0.6M-0.8,0.6L0.8,-0.6","circle","M-1,0L1,0"]},"legend":null}}},
{"transform":[{"aggregate":[{"op":"count","as":"n"}],"groupby":["name"]}],"mark":{"type":"text","align":"left","baseline":"bottom","dx":3.5,"dy":-2,"font":"Liberation Sans","fontSize":8.5,"color":"#222"},"encoding":{
"x":{"datum":0.02,"type":"quantitative","scale":{"type":"log","domain":[0.02,20],"nice":false},"axis":{"orient":"top","tickCount":20,"labels":false,"tickSize":{"condition":{"test":"abs(log(datum.value)/LN10-round(log(datum.value)/LN10))<0.0001","value":-5},"value":-2.5},"title":null}},
"y":{"datum":0.2,"type":"quantitative","scale":{"type":"log","domain":[0.2,13000],"nice":false},"axis":{"orient":"right","tickCount":20,"labels":false,"tickSize":{"condition":{"test":"abs(log(datum.value)/LN10-round(log(datum.value)/LN10))<0.0001","value":-5},"value":-2.5},"title":null}},
"text":{"field":"name"}}}
],"resolve":{"axis":{"x":"independent","y":"independent"}}}
],
"config": {
"view": {"stroke": null},
"axis": {"domainColor":"#000","domainWidth":0.8,"tickColor":"#000","tickWidth":0.8,"grid":false,"labelOverlap":false,"labelFlush":false,"labelFont":"Liberation Sans","labelFontSize":8,"labelColor":"#222","titleFont":"Liberation Sans","titleFontSize":13,"titleFontWeight":"normal","titleColor":"#444"}
}
}
